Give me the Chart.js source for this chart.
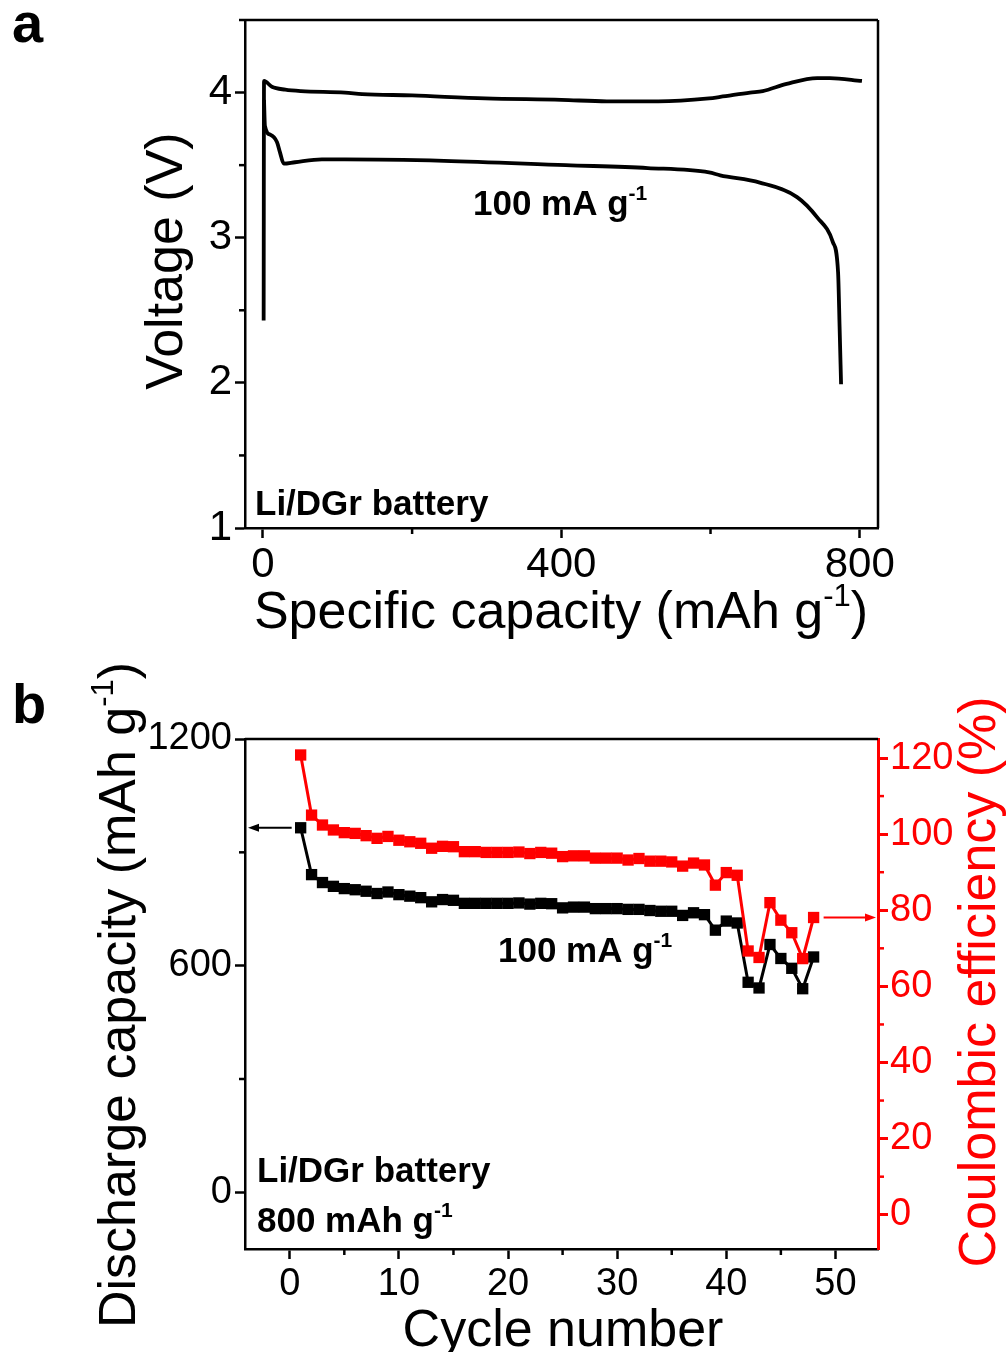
<!DOCTYPE html>
<html>
<head>
<meta charset="utf-8">
<script src="https://cdn.jsdelivr.net/npm/chart.js@4.4.1/dist/chart.umd.min.js"></script>
<style>
  html, body { margin: 0; padding: 0; background: #fff; }
  #wrap { position: relative; width: 1006px; height: 1352px; overflow: hidden; }
  canvas { position: absolute; left: 0; }
  #chartA { top: 0; }
  #chartB { top: 650px; }
</style>
</head>
<body>
<div id="wrap">
  <canvas id="chartA" width="1006" height="650"></canvas>
  <canvas id="chartB" width="1006" height="702"></canvas>
</div>
<script>
// ---- panel a: voltage profile ----
const chargeCapacity = [1, 1.5, 12, 30, 51, 110, 133, 200, 298, 400, 461, 530, 598, 613, 653, 670, 702, 743, 760, 803];
const chargeVoltage  = [2.43, 4.08, 4.04, 4.02, 4.01, 4.0, 3.99, 3.98, 3.96, 3.95, 3.94, 3.94, 3.96, 3.97, 4.0, 4.01, 4.06, 4.10, 4.10, 4.08];
const dischargeCapacity = [1.5, 2.7, 10, 18.8, 22.8, 28, 43, 79, 110, 243, 406, 516, 598, 613, 666, 716, 743, 764, 771, 773, 775];
const dischargeVoltage  = [3.95, 3.77, 3.71, 3.66, 3.59, 3.51, 3.52, 3.54, 3.54, 3.53, 3.50, 3.48, 3.45, 3.43, 3.38, 3.28, 3.14, 2.97, 2.76, 2.39, 1.99];
const voltageTicks = [1, 2, 3, 4];
const voltageMinor = [1.5, 2.5, 3.5, 4.5];
const capacityTicks = [0, 400, 800];
const capacityMinor = [200, 600];

// ---- panel b: cycling ----
const cycleNumber = [1, 2, 3, 4, 5, 6, 7, 8, 9, 10, 11, 12, 13, 14, 15, 16, 17, 18, 19, 20, 21, 22, 23, 24,
  25, 26, 27, 28, 29, 30, 31, 32, 33, 34, 35, 36, 37, 38, 39, 40, 41, 42, 43, 44, 45, 46, 47, 48];
const cycleCapacity = [965, 841, 820, 810, 804, 801, 797, 791, 795, 788, 784, 780, 769, 775, 773, 765,
  765, 765, 765, 765, 766, 763, 765, 764, 753, 755, 755, 751, 751, 751, 749, 749, 746, 744, 744, 733,
  740, 735, 694, 718, 713, 556, 541, 656, 619, 593, 539, 623];
const coulombicEfficiency = [120.8, 105, 102.4, 101.1, 100.4, 100.2, 99.6, 98.9, 99.4, 98.4, 98, 97.6,
  96.3, 96.8, 96.7, 95.4, 95.4, 95.2, 95.2, 95.2, 95.3, 94.9, 95.2, 95.0, 94.1, 94.3, 94.3, 93.7, 93.7,
  93.7, 93.2, 93.6, 92.9, 92.9, 92.7, 91.6, 92.4, 91.9, 86.6, 89.9, 89.2, 69.3, 67.6, 82, 77.4, 74.1, 67.3, 78.1];
const cycleTicks = [0, 10, 20, 30, 40, 50];
const cycleMinor = [5, 15, 25, 35, 45];
const capBTicks = [0, 600, 1200];
const capBMinor = [300, 900];
const ceTicks = [0, 20, 40, 60, 80, 100, 120];
const ceMinor = [10, 30, 50, 70, 90, 110];

const FONT = '"Liberation Sans", Arial, Helvetica, sans-serif';
const RED = '#ff0000';

function richText(ctx, parts, x, y, size, bold, align) {
  const weight = bold ? 'bold ' : '';
  const supSize = Math.round(size * 0.6);
  const fontFor = sup => weight + (sup ? supSize : size) + 'px ' + FONT;
  let total = 0;
  parts.forEach(p => { ctx.font = fontFor(p.sup); total += ctx.measureText(p.t).width; });
  let cx = align === 'center' ? x - total / 2 : x;
  ctx.textAlign = 'left';
  ctx.textBaseline = 'alphabetic';
  parts.forEach(p => {
    ctx.font = fontFor(p.sup);
    ctx.fillText(p.t, cx, p.sup ? y - size * 0.42 : y);
    cx += ctx.measureText(p.t).width;
  });
}

function seg(ctx, x1, y1, x2, y2) {
  ctx.beginPath(); ctx.moveTo(x1, y1); ctx.lineTo(x2, y2); ctx.stroke();
}

function arrow(ctx, x1, y, x2, color) {
  const dir = Math.sign(x2 - x1);
  ctx.strokeStyle = color; ctx.fillStyle = color; ctx.lineWidth = 2;
  seg(ctx, x1, y, x2 - dir * 8, y);
  ctx.beginPath();
  ctx.moveTo(x2, y); ctx.lineTo(x2 - dir * 11, y - 4); ctx.lineTo(x2 - dir * 11, y + 4);
  ctx.closePath(); ctx.fill();
}

function fixedTicks(values) {
  return scale => { scale.ticks = values.map(v => ({ value: v })); };
}

// plain numbers, no thousands separator
const plainLabel = v => String(v);

function axisStyle(color, width) {
  return {
    grid: { display: true, drawOnChartArea: false, drawTicks: true, tickLength: 10, tickWidth: width, tickColor: color },
    border: { display: true, color: color, width: width }
  };
}

const scatterPairs = (xs, ys) => xs.map((v, i) => ({ x: v, y: ys[i] }));

// ---------------- chart a ----------------
const panelAPlugin = {
  id: 'panelA',
  afterDraw(chart) {
    const { ctx, chartArea: a, scales: { x, y } } = chart;
    ctx.save();
    ctx.strokeStyle = '#000'; ctx.lineWidth = 2.5;
    seg(ctx, a.left, a.top, a.right, a.top);
    seg(ctx, a.right, a.top, a.right, a.bottom);
    capacityMinor.forEach(v => { const px = x.getPixelForValue(v); seg(ctx, px, a.bottom, px, a.bottom + 6); });
    voltageMinor.forEach(v => { const py = y.getPixelForValue(v); seg(ctx, a.left, py, a.left - 6, py); });

    ctx.fillStyle = '#000';
    richText(ctx, [{ t: 'a' }], 12, 42, 56, true, 'left');
    richText(ctx, [{ t: 'Specific capacity (mAh g' }, { t: '-1', sup: true }, { t: ')' }], 561, 628, 52, false, 'center');
    ctx.save();
    ctx.translate(182, 261); ctx.rotate(-Math.PI / 2);
    richText(ctx, [{ t: 'Voltage (V)' }], 0, 0, 52, false, 'center');
    ctx.restore();
    richText(ctx, [{ t: '100 mA g' }, { t: '-1', sup: true }], 473, 215, 35, true, 'left');
    richText(ctx, [{ t: 'Li/DGr battery' }], 255, 515, 35, true, 'left');
    ctx.restore();
  }
};

new Chart(document.getElementById('chartA'), {
  type: 'line',
  data: {
    datasets: [
      { data: scatterPairs(chargeCapacity, chargeVoltage), borderColor: '#000', borderWidth: 3.8, pointRadius: 0, cubicInterpolationMode: 'monotone', fill: false },
      { data: scatterPairs(dischargeCapacity, dischargeVoltage), borderColor: '#000', borderWidth: 3.8, pointRadius: 0, cubicInterpolationMode: 'monotone', fill: false }
    ]
  },
  options: {
    responsive: false,
    animation: false,
    layout: { padding: { left: 0, top: 20, right: 128, bottom: 0 } },
    plugins: { legend: { display: false }, tooltip: { enabled: false } },
    scales: {
      x: {
        type: 'linear', min: -24, max: 824.5,
        afterBuildTicks: fixedTicks(capacityTicks),
        afterFit: s => { s.height = 122; s.paddingLeft = 0; s.paddingRight = 0; },
        ticks: { color: '#000', font: { family: FONT, size: 42 }, padding: 2, maxRotation: 0, callback: plainLabel },
        ...axisStyle('#000', 2.5)
      },
      y: {
        type: 'linear', min: 1, max: 4.5,
        afterBuildTicks: fixedTicks(voltageTicks),
        afterFit: s => { s.width = 245; s.paddingTop = 0; s.paddingBottom = 0; },
        ticks: { color: '#000', font: { family: FONT, size: 42 }, padding: 3, callback: plainLabel },
        ...axisStyle('#000', 2.5)
      }
    }
  },
  plugins: [panelAPlugin]
});

// ---------------- chart b ----------------
const panelBPlugin = {
  id: 'panelB',
  afterDraw(chart) {
    const { ctx, chartArea: a, scales: { x, yCap, yCE } } = chart;
    ctx.save();
    ctx.strokeStyle = '#000'; ctx.lineWidth = 2.5;
    seg(ctx, a.left, a.top, a.right, a.top);
    cycleMinor.forEach(v => { const px = x.getPixelForValue(v); seg(ctx, px, a.bottom, px, a.bottom + 6); });
    capBMinor.forEach(v => { const py = yCap.getPixelForValue(v); seg(ctx, a.left, py, a.left - 6, py); });
    ctx.strokeStyle = RED;
    ceMinor.forEach(v => { const py = yCE.getPixelForValue(v); seg(ctx, a.right, py, a.right + 6, py); });

    // pointer arrows
    const firstX = x.getPixelForValue(cycleNumber[0]);
    const firstY = yCap.getPixelForValue(cycleCapacity[0]);
    arrow(ctx, firstX - 9, firstY, a.left + 3, '#000');
    const lastX = x.getPixelForValue(cycleNumber[cycleNumber.length - 1]);
    const lastY = yCE.getPixelForValue(coulombicEfficiency[coulombicEfficiency.length - 1]);
    arrow(ctx, lastX + 10, lastY, a.right - 2, RED);

    ctx.fillStyle = '#000';
    richText(ctx, [{ t: 'b' }], 12, 73, 56, true, 'left');
    richText(ctx, [{ t: 'Cycle number' }], 563, 696, 52, false, 'center');
    ctx.save();
    ctx.translate(135, 345); ctx.rotate(-Math.PI / 2);
    richText(ctx, [{ t: 'Discharge capacity (mAh g' }, { t: '-1', sup: true }, { t: ')' }], 0, 0, 52, false, 'center');
    ctx.restore();
    ctx.save();
    ctx.fillStyle = RED;
    ctx.translate(995, 332); ctx.rotate(-Math.PI / 2);
    richText(ctx, [{ t: 'Coulombic efficiency (%)' }], 0, 0, 52, false, 'center');
    ctx.restore();
    ctx.fillStyle = '#000';
    richText(ctx, [{ t: '100 mA g' }, { t: '-1', sup: true }], 498, 312, 35, true, 'left');
    richText(ctx, [{ t: 'Li/DGr battery' }], 257, 532, 35, true, 'left');
    richText(ctx, [{ t: '800 mAh g' }, { t: '-1', sup: true }], 257, 582, 35, true, 'left');
    ctx.restore();
  }
};

new Chart(document.getElementById('chartB'), {
  type: 'line',
  data: {
    datasets: [
      {
        data: scatterPairs(cycleNumber, coulombicEfficiency), yAxisID: 'yCE', order: 0,
        borderColor: RED, borderWidth: 3, pointStyle: 'rect', pointRadius: 8,
        pointBackgroundColor: RED, pointBorderWidth: 0, tension: 0, fill: false
      },
      {
        data: scatterPairs(cycleNumber, cycleCapacity), yAxisID: 'yCap', order: 1,
        borderColor: '#000', borderWidth: 3, pointStyle: 'rect', pointRadius: 8,
        pointBackgroundColor: '#000', pointBorderWidth: 0, tension: 0, fill: false
      }
    ]
  },
  options: {
    responsive: false,
    animation: false,
    layout: { padding: { left: 0, top: 89, right: 0, bottom: 0 } },
    plugins: { legend: { display: false }, tooltip: { enabled: false } },
    scales: {
      x: {
        type: 'linear', min: -4.1, max: 53.9,
        afterBuildTicks: fixedTicks(cycleTicks),
        afterFit: s => { s.height = 103; s.paddingLeft = 0; s.paddingRight = 0; },
        ticks: { color: '#000', font: { family: FONT, size: 38 }, padding: 3, maxRotation: 0, callback: plainLabel },
        ...axisStyle('#000', 2.5)
      },
      yCap: {
        type: 'linear', position: 'left', min: -150, max: 1200,
        afterBuildTicks: fixedTicks(capBTicks),
        afterFit: s => { s.width = 245; s.paddingTop = 0; s.paddingBottom = 0; },
        ticks: { color: '#000', font: { family: FONT, size: 38 }, padding: 3, callback: plainLabel },
        ...axisStyle('#000', 2.5)
      },
      yCE: {
        type: 'linear', position: 'right', min: -9, max: 125,
        afterBuildTicks: fixedTicks(ceTicks),
        afterFit: s => { s.width = 128; s.paddingTop = 0; s.paddingBottom = 0; },
        ticks: { color: RED, font: { family: FONT, size: 38 }, padding: 2, callback: plainLabel },
        ...axisStyle(RED, 3)
      }
    }
  },
  plugins: [panelBPlugin]
});
</script>
</body>
</html>
